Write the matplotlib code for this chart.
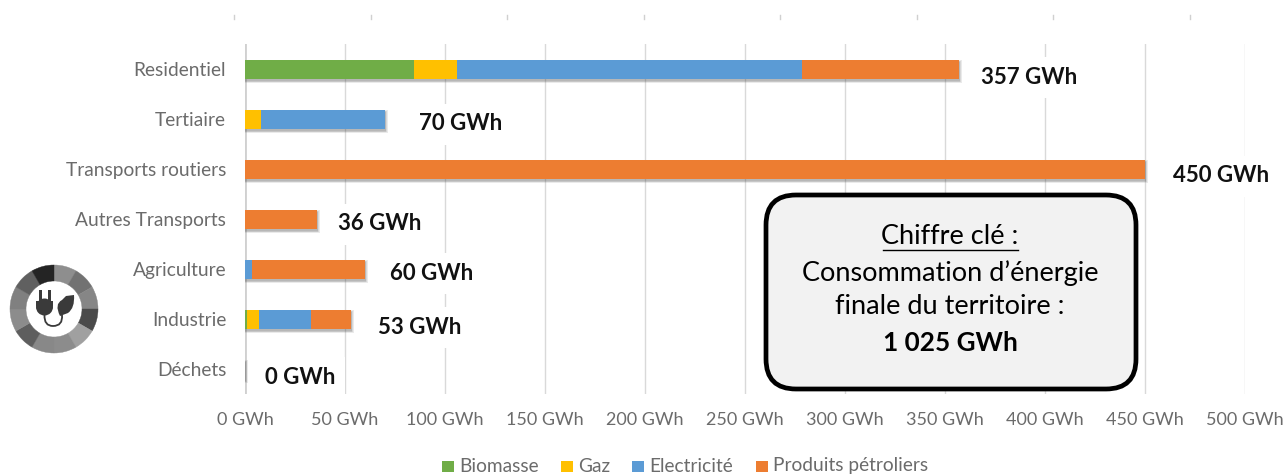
import matplotlib

matplotlib.use("Agg")
import matplotlib.pyplot as plt
import numpy as np
from matplotlib.patches import Ellipse, FancyBboxPatch, PathPatch, Rectangle, Wedge
from matplotlib.path import Path

plt.rcParams["font.family"] = ["Lato", "DejaVu Sans"]

W, H = 1286, 476

sectors = ["Residentiel", "Tertiaire", "Transports routiers", "Autres Transports",
           "Agriculture", "Industrie", "Déchets"]
biomasse = [84.5, 0, 0, 0, 0, 1, 0]
gaz = [21.5, 8, 0, 0, 0, 6, 0]
electricite = [172.5, 62, 0, 0, 3.5, 26, 0]
petrole = [78.5, 0, 450, 36, 56.5, 20, 0]
totals = [357, 70, 450, 36, 60, 53, 0]
# total label placement, in pixels from the bar end
label_gap = [22, 34, 28, 21, 25, 27, 20]
label_dy = [8, 5, 7, 5, 4, 8, 8]

series = [("Biomasse", biomasse, "#70AD47"), ("Gaz", gaz, "#FFC000"),
          ("Electricité", electricite, "#5B9BD5"), ("Produits pétroliers", petrole, "#ED7D31")]
xticks = [0, 50, 100, 150, 200, 250, 300, 350, 400, 450, 500]
top_marks = [234, 371, 507, 644, 780, 917, 1053, 1190]
# clockwise from twelve o'clock
ring_shades = ["#8e8e8e", "#727272", "#868686", "#4a4a4a", "#a0a0a0", "#8c8c8c",
               "#888888", "#5e5e5e", "#8c8c8c", "#808080", "#606060", "#242424"]

fig = plt.figure(figsize=(W / 100, H / 100), dpi=100)
# pixel canvas for everything that sits outside the plot
bg = fig.add_axes([0, 0, 1, 1], zorder=0)
bg.set_xlim(0, W)
bg.set_ylim(H, 0)
bg.axis("off")

ax = fig.add_axes([245 / W, 1 - 394 / H, 1000 / W, 350 / H], zorder=1)
ax.patch.set_alpha(0)
ax.set_xlim(0, 500)
ax.set_ylim(6.5, -0.5)

y = np.arange(len(sectors))

# soft drop shadow under each stacked bar
for spread in [1, 2, 3, 4]:
    ax.barh(y + 0.05, np.array(totals) + spread / 3, height=0.36 + spread * 0.025,
            color="#444444", alpha=0.11, zorder=2)

left = np.zeros(len(sectors))
for name, vals, col in series:
    ax.barh(y, vals, left=left, height=0.38, color=col, zorder=3, label=name)
    left += np.array(vals)

ax.set_xticks(xticks)
ax.set_xticklabels([f"{t} GWh" for t in xticks], fontsize=13, color="#6b6b6b")
ax.set_yticks(y)
ax.set_yticklabels(sectors, fontsize=13.8, color="#6b6b6b")
ax.tick_params(length=0)
ax.tick_params(axis="x", pad=13)
ax.tick_params(axis="y", pad=13.5)
ax.grid(axis="x", color="#d9d9d9", lw=1, zorder=0)
ax.set_axisbelow(True)
for s in ax.spines.values():
    s.set_visible(False)
ax.axvline(0, color="#d0d0d0", lw=2, zorder=1)

for i, total in enumerate(totals):
    ax.annotate(f"{total} GWh", (left[i], i), xytext=(label_gap[i] * 0.72, -label_dy[i] * 0.72),
                textcoords="offset points", va="center", ha="left", fontsize=16, fontweight="bold",
                color="#111111", zorder=4,
                bbox=dict(boxstyle="square,pad=0.45", fc="white", ec="none"))

# short marks along the top of the figure
for x in top_marks:
    bg.plot([x, x], [15, 19], color="#d0d0d0", lw=1)

over = fig.add_axes([0, 0, 1, 1], zorder=2)
over.set_xlim(0, W)
over.set_ylim(H, 0)
over.axis("off")

# key figure box
box = FancyBboxPatch((780, 209), 342, 166, boxstyle="round,pad=14,rounding_size=30",
                     fc="#F2F2F2", ec="black", lw=3.4, zorder=5)
over.add_patch(box)
tx = 950
over.text(tx, 236, "Chiffre clé :", ha="center", va="center", fontsize=19.5, color="black", zorder=6)
over.plot([883, 1018], [250, 250], color="black", lw=1, zorder=6)
over.text(tx, 273, "Consommation d’énergie", ha="center", va="center", fontsize=19.5, color="black", zorder=6)
over.text(tx, 307, "finale du territoire :", ha="center", va="center", fontsize=19.5, color="black", zorder=6)
over.text(tx, 343, "1 025 GWh", ha="center", va="center", fontsize=18.8, fontweight="bold", color="black", zorder=6)

# legend row at the bottom
legend_x = [442, 561, 632, 756]
for (name, vals, col), x in zip(series, legend_x):
    over.add_patch(Rectangle((x, 461), 12, 11, fc=col, ec="none"))
    over.text(x + 17, 466, name, va="center", ha="left", fontsize=13.8, color="#6b6b6b")

# energy icon at the left
cx, cy, r = 54, 309, 44
step = 360 / len(ring_shades)
for i, shade in enumerate(ring_shades):
    # y is flipped on this canvas, so angles run clockwise from the top
    over.add_patch(Wedge((cx, cy), r, -90 + i * step, -90 + (i + 1) * step, width=r - 28,
                         fc=shade, ec=shade, lw=0.3))
ink = "#3a3a3a"
over.add_patch(Rectangle((36, 301), 17, 5, fc=ink, ec="none"))
over.add_patch(Ellipse((44.5, 307), 17, 17, fc=ink, ec="none"))
over.add_patch(Rectangle((38.5, 290), 3.5, 12, fc=ink, ec="none"))
over.add_patch(Rectangle((47.5, 290), 3.5, 12, fc=ink, ec="none"))
leaf = Path([(60, 316), (54, 304), (62, 300), (66, 296), (74, 295), (75, 308), (68, 313), (60, 316)],
            [Path.MOVETO, Path.CURVE3, Path.CURVE3, Path.LINETO, Path.LINETO, Path.CURVE3, Path.CURVE3, Path.LINETO])
over.add_patch(PathPatch(leaf, fc=ink, ec="none"))
cord = Path([(44.5, 315), (44, 326), (53, 326), (63, 326), (62, 315)],
            [Path.MOVETO, Path.CURVE3, Path.CURVE3, Path.CURVE3, Path.CURVE3])
over.add_patch(PathPatch(cord, fc="none", ec=ink, lw=1.3))

fig.savefig("out.png", dpi=100)
